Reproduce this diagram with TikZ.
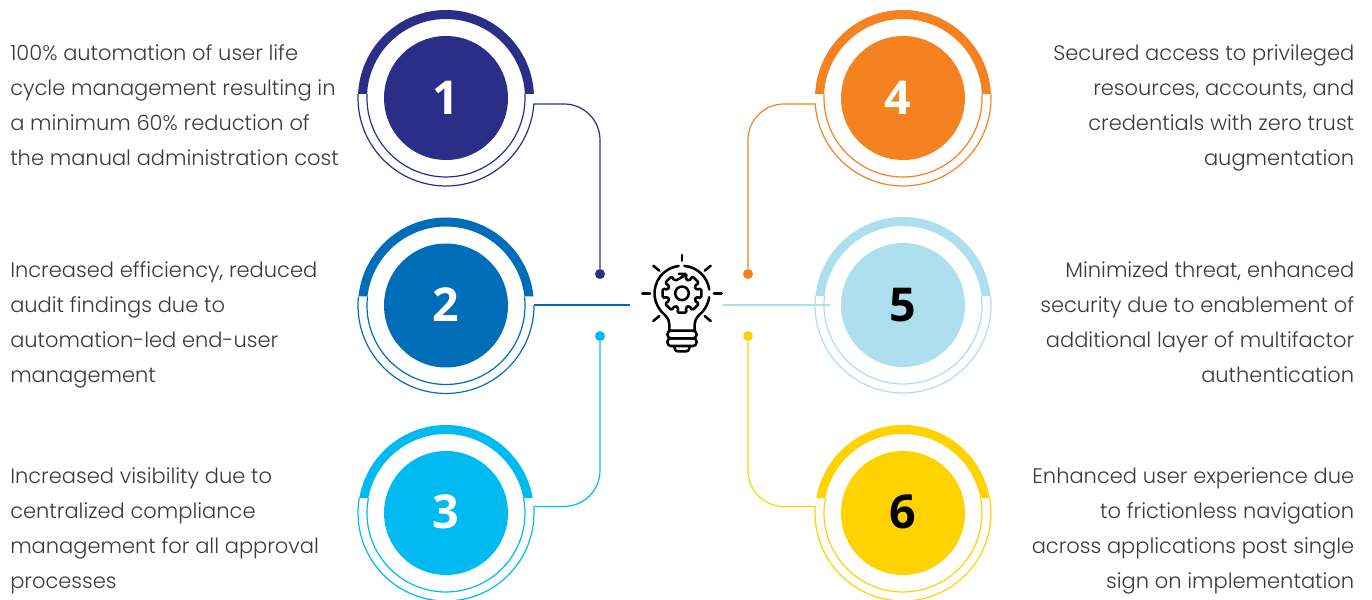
\documentclass[tikz,border=0pt]{standalone}
\usepackage{fontspec}
\setmainfont{Poppins Light}
\newfontfamily\numfont{Open Sans}
\definecolor{cA}{HTML}{2B2E87}
\definecolor{cB}{HTML}{006DB8}
\definecolor{cC}{HTML}{00BBF2}
\definecolor{cD}{HTML}{F58220}
\definecolor{cE}{HTML}{ADDFEE}
\definecolor{cF}{HTML}{FFD200}
\definecolor{txt}{HTML}{3A3A3A}
\tikzset{
  disk/.style={circle,minimum size=93pt,inner sep=0pt,font=\numfont\bfseries\fontsize{35}{35}\selectfont},
  dotn/.style={circle,minimum size=7.5pt,inner sep=0pt},
  conn/.style={line width=0.9pt,rounded corners=27pt},
  label/.style={inner sep=0pt,text=txt,font=\fontsize{15.75}{26.25}\selectfont},
  ll/.style={label,anchor=north west,align=left},
  rl/.style={label,anchor=north east,align=right},
  icon/.style={line width=1.9pt,black,line cap=round,line join=round}
}
% cx, cy, d, colour, outer-arc start angle, outer-arc end angle
\newcommand{\ringset}[6]{%
  \pgfmathsetmacro{\aO}{asin(#3/88)}%
  \pgfmathsetmacro{\aI}{asin(#3/79)}%
  \fill[#4] (#1,#2) ++(\aO:88) arc[start angle=\aO,end angle=180-\aO,radius=88]
     -- ++(9,0) arc[start angle=180-\aI,end angle=\aI,radius=79] -- cycle;
  \draw[#4,line width=0.9pt] (#1,#2) ++(180-\aI:79) arc[start angle=180-\aI,end angle=360+\aI,radius=79];
  \draw[#4,line width=0.9pt] (#1,#2) ++(#5:88) arc[start angle=#5,end angle=#6,radius=88];
}
\begin{document}
\begin{tikzpicture}[x=0.75pt,y=0.75pt]
\useasboundingbox (0,0) rectangle (1372,600);
\pgfmathsetmacro{\gA}{asin(6/88)}
\pgfmathsetmacro{\bA}{asin(4/88)}
\pgfmathsetmacro{\bB}{asin(9/88)}
\pgfmathsetmacro{\bC}{asin(15/88)}
% rings
\ringset{446}{502}{4}{cA}{180-\bA}{360-\gA}
\ringset{446}{294.5}{9}{cB}{180-\bB}{360}
\ringset{446}{87}{15}{cC}{180-\bC}{360+\gA}
\ringset{903}{502}{4}{cD}{180+\gA}{360+\bA}
\ringset{903}{295}{9}{cE}{180-\bB}{360+\bB}
\ringset{903}{87}{15}{cF}{180-\gA}{360+\bC}
% disks
\node[disk,fill=cA,text=white] (d1) at (446,502) {1};
\node[disk,fill=cB,text=white] (d2) at (446,294.5) {\raisebox{0.75pt}{2}};
\node[disk,fill=cC,text=white] (d3) at (446,87) {\raisebox{1.5pt}{3}};
\node[disk,fill=cD,text=white] (d4) at (903,502) {4\rule{7.5pt}{0pt}};
\node[disk,fill=cE,text=black] (d5) at (903,295) {\raisebox{0.75pt}{5}};
\node[disk,fill=cF,text=black] (d6) at (903,87) {\raisebox{1.5pt}{6}};
% connector ends
\coordinate (r1) at (533.5,496);
\coordinate (r2) at (534,295);
\coordinate (h2) at (630,295);
\coordinate (r3) at (533.5,93.5);
\coordinate (r4) at (815.5,496);
\coordinate (r5) at (830,295);
\coordinate (h5) at (723,295);
\coordinate (r6) at (815.5,93.5);
\node[dotn,fill=cA] (p1) at (600,326) {};
\node[dotn,fill=cC] (p3) at (600,264) {};
\node[dotn,fill=cD] (p4) at (748,326) {};
\node[dotn,fill=cF] (p6) at (748,264) {};
\draw[conn,cA] (r1) -| (p1);
\draw[conn,cC] (r3) -| (p3);
\draw[conn,cD] (r4) -| (p4);
\draw[conn,cF] (r6) -| (p6);
\draw[cB,line width=1.6pt] (r2) -- (h2);
\draw[cE,line width=1.6pt] (h5) -- (r5);
% bulb icon
\begin{scope}[shift={(682,306.7)},icon]
  \draw (-12.7,-37.4) -- (-12.7,-31) .. controls (-12.7,-25) and (-17,-22) .. (220:27.5)
        arc[start angle=220,end angle=97,radius=27.5];
  \draw (85:27.5) arc[start angle=85,end angle=8,radius=27.5];
  \draw (-8:27.5) arc[start angle=-8,end angle=-40,radius=27.5]
        .. controls (17,-22) and (12.7,-25) .. (12.7,-31) -- (12.7,-37.4);
  \draw[rounded corners=2.5] (-14.5,-37.4) rectangle (14.5,-45);
  \draw[rounded corners=2.5] (-14.5,-45) rectangle (14.5,-52.7);
  \draw[rounded corners=2] (-7.5,-52.7) -- (-7,-58) -- (7,-58) -- (7.5,-52.7);
  \draw (0,38.3) -- (0,32.6);
  \draw (-39.7,0) -- (-32,0);
  \draw (39.7,0) -- (32,0);
  \draw (-28.7,27.6) -- (-22.7,22.6);
  \draw (28.7,27.6) -- (22.7,22.6);
  \draw (-28.7,-27.7) -- (-22.7,-22.7);
  \draw (28.7,-27.7) -- (22.7,-22.7);
  \draw (0,0) circle[radius=6.8];
  \draw[rounded corners=1.2] (90-14:20)
    \foreach \a in {90,45,0,-45,-90,-135,-180,-225} {
      -- ({\a+14}:20) -- ({\a-14}:20) -- ({\a-14}:14.5) -- ({\a-31}:14.5)
    } -- cycle;
\end{scope}
% texts
\node[ll] (t1) at (10,556) {100\% automation of user life\\cycle management resulting in\\a minimum 60\% reduction of\\the manual administration cost};
\node[ll] (t2) at (10,339) {Increased efficiency, reduced\\audit findings due to\\automation-led end-user\\management};
\node[ll] (t3) at (10,133) {Increased visibility due to\\centralized compliance\\management for all approval\\processes};
\node[rl] (t4) at (1354.5,556) {Secured access to privileged\\resources, accounts, and\\credentials with zero trust\\augmentation};
\node[rl] (t5) at (1354.5,339) {Minimized threat, enhanced\\security due to enablement of\\additional layer of multifactor\\authentication};
\node[rl] (t6) at (1354.5,133) {Enhanced user experience due\\to frictionless navigation\\across applications post single\\sign on implementation};
\end{tikzpicture}
\end{document}
